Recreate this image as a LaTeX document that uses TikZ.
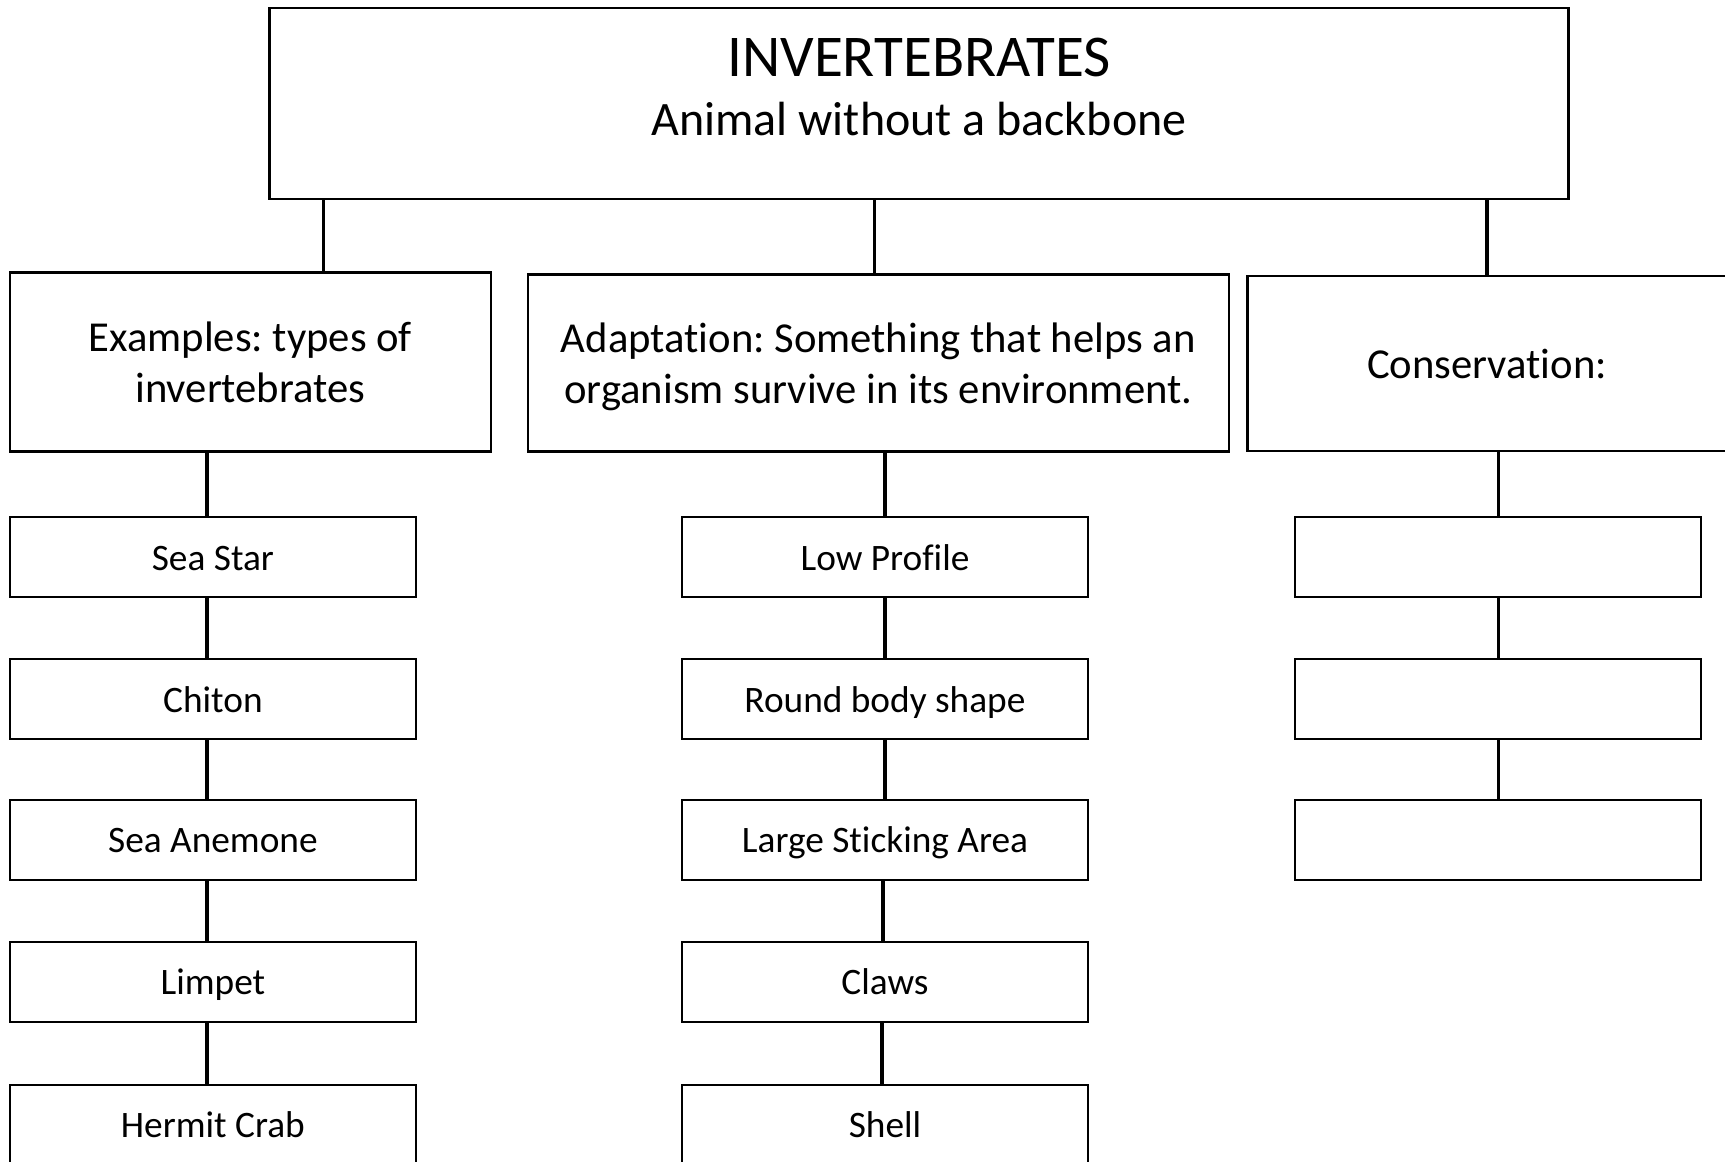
\documentclass[tikz,border=0pt]{standalone}
\usepackage{fontspec}
\setmainfont{Carlito}[Ligatures=NoCommon]
\frenchspacing
\newdimen\pu
\pu=0.375pt

\begin{document}
\begin{tikzpicture}[x=0.375pt,y=-0.375pt]
\tikzstyle{every node}+=[inner sep=0pt]
\tikzstyle{box}=[draw=black,line width=0.9pt]
\tikzstyle{headbox}=[box,minimum width=1299\pu,minimum height=191\pu]
\tikzstyle{catbox}=[box,align=center,font=\fontsize{16}{19.2}\selectfont,text depth=0pt,minimum height=177\pu]
\tikzstyle{itembox}=[box,font=\fontsize{14}{16.8}\selectfont,text height=9.8pt,text depth=0pt,minimum width=406\pu,minimum height=80\pu]
\tikzstyle{link}=[draw=black,line width=1.2pt]
\useasboundingbox (0,0) rectangle (1725,1162);
% top of the tree
\node [headbox] (top) at (919,103.4) {};
\node [anchor=base,font=\fontsize{22.2}{26}\selectfont] (title) at (919,77) {INVERTEBRATES};
\node [anchor=base,font=\fontsize{18}{22}\selectfont] (subtitle) at (919,136) {Animal without a backbone};
% the three groups
\node [catbox,minimum width=481\pu,minimum height=179\pu] (exa) at (250.3,362) {Examples: types of\\invertebrates};
\node [catbox,minimum width=701\pu] (ada) at (878.4,363) {Adaptation: Something that helps an\\organism survive in its environment.};
\node [catbox,minimum width=479\pu,minimum height=175\pu] (con) at (1487,363.5) {Conservation:};
% examples
\node [itembox] (ex1) at (212.9,557.2) {Sea Star};
\node [itembox] (ex2) at (212.9,699) {Chiton};
\node [itembox] (ex3) at (212.9,839.9) {Sea Anemone};
\node [itembox] (ex4) at (212.9,981.8) {Limpet};
\node [itembox] (ex5) at (212.9,1124.8) {Hermit Crab};
% adaptations
\node [itembox] (ad1) at (885,557.2) {Low Profile};
\node [itembox] (ad2) at (885,699) {Round body shape};
\node [itembox] (ad3) at (885,839.9) {Large Sticking Area};
\node [itembox] (ad4) at (885,981.8) {Claws};
\node [itembox] (ad5) at (885,1124.8) {Shell};
% conservation (left blank)
\node [itembox] (cv1) at (1498.2,557.2) {};
\node [itembox] (cv2) at (1498.2,699) {};
\node [itembox] (cv3) at (1498.2,839.9) {};
% connectors
\draw [link] ([xshift=73\pu]exa.north) -- ([xshift=73\pu]exa.north |- top.south);
\draw [link] ([xshift=-4\pu]ada.north) -- ([xshift=-4\pu]ada.north |- top.south);
\draw [link] (con.north) -- (con.north |- top.south);
\draw [link] ([xshift=-6\pu]ex1.north) -- ([xshift=-6\pu]ex1.north |- exa.south);
\draw [link] ([xshift=-6\pu]ex1.south) -- ([xshift=-6\pu]ex2.north);
\draw [link] ([xshift=-6\pu]ex2.south) -- ([xshift=-6\pu]ex3.north);
\draw [link] ([xshift=-6\pu]ex3.south) -- ([xshift=-6\pu]ex4.north);
\draw [link] ([xshift=-6\pu]ex4.south) -- ([xshift=-6\pu]ex5.north);
\draw [link] (ad1.north) -- (ad1.north |- ada.south);
\draw [link] (ad1) -- (ad2);
\draw [link] (ad2) -- (ad3);
\draw [link] ([xshift=-2\pu]ad3.south) -- ([xshift=-2\pu]ad4.north);
\draw [link] ([xshift=-3\pu]ad4.south) -- ([xshift=-3\pu]ad5.north);
\draw [link] (cv1.north) -- (cv1.north |- con.south);
\draw [link] (cv1) -- (cv2);
\draw [link] (cv2) -- (cv3);
\end{tikzpicture}
\end{document}
